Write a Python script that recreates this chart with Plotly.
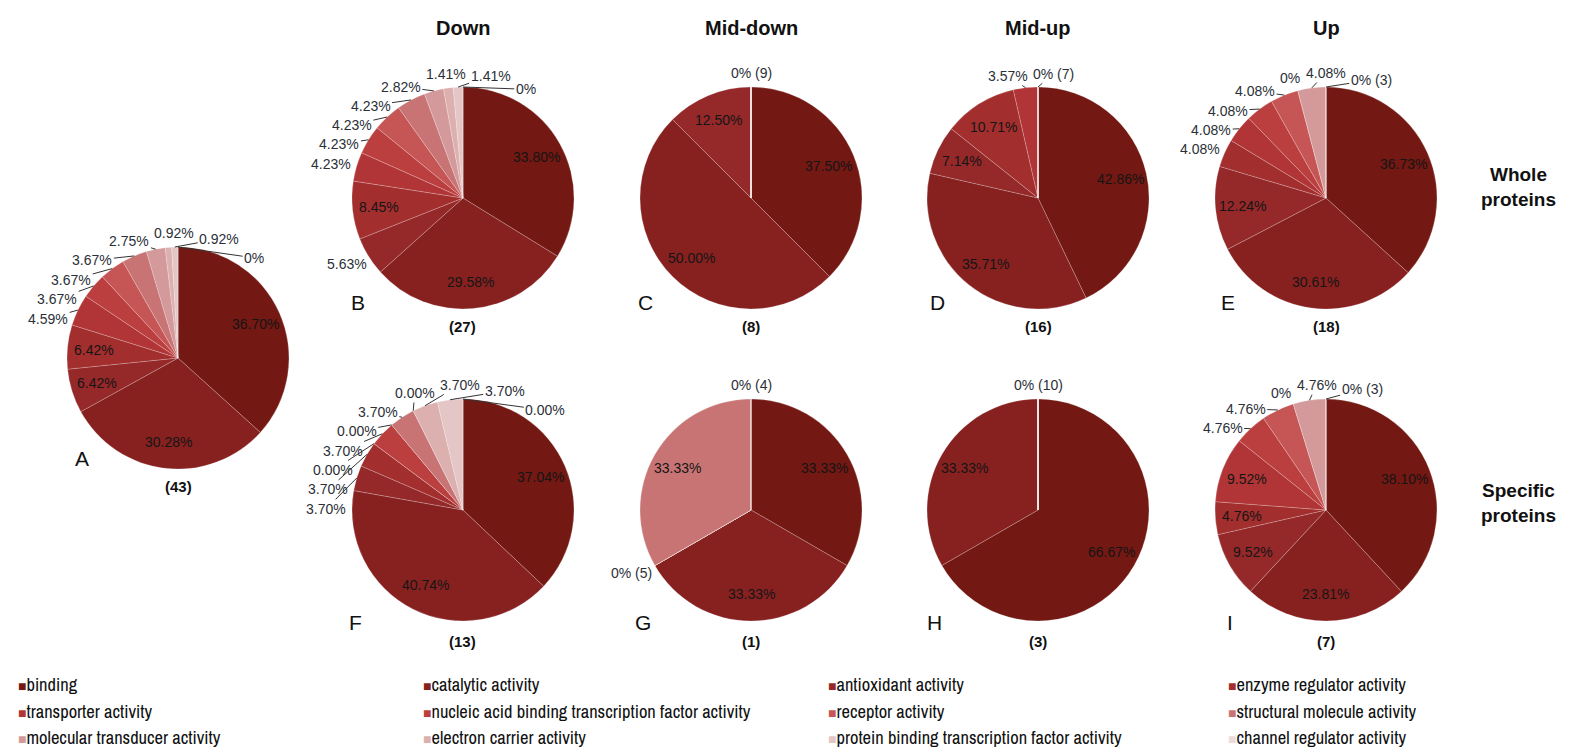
import math
import plotly.graph_objects as go

W, H = 1587, 752

categories = [
    "binding", "catalytic activity", "antioxidant activity", "enzyme regulator activity",
    "transporter activity", "nucleic acid binding transcription factor activity", "receptor activity",
    "structural molecule activity", "molecular transducer activity", "electron carrier activity",
    "protein binding transcription factor activity", "channel regulator activity",
]
slice_colors = [
    "#731812", "#872120", "#952829", "#A32E2E", "#B13536", "#BC3F3F",
    "#C65655", "#C97474", "#D4999A", "#DDB0B0", "#E4C6C6", "#EDDADA",
]

group_titles = ["Down", "Mid-down", "Mid-up", "Up"]
row_titles = ["Whole<br>proteins", "Specific<br>proteins"]
panel_letters = ["A", "B", "C", "D", "E", "F", "G", "H", "I"]
protein_counts = [43, 27, 8, 16, 18, 13, 1, 3, 7]

vals_A = [36.70, 30.28, 6.42, 6.42, 4.59, 3.67, 3.67, 3.67, 2.75, 0.92, 0.92, 0]
text_A = ["36.70%", "30.28%", "6.42%", "6.42%", "4.59%", "3.67%", "3.67%", "3.67%", "2.75%", "0.92%", "0.92%", "0%"]
vals_B = [33.80, 29.58, 5.63, 8.45, 4.23, 4.23, 4.23, 4.23, 2.82, 1.41, 1.41, 0]
text_B = ["33.80%", "29.58%", "5.63%", "8.45%", "4.23%", "4.23%", "4.23%", "4.23%", "2.82%", "1.41%", "1.41%", "0%"]
vals_C = [37.50, 50.00, 12.50, 0, 0, 0, 0, 0, 0, 0, 0, 0]
text_C = ["37.50%", "50.00%", "12.50%", "0% (9)", "", "", "", "", "", "", "", ""]
vals_D = [42.86, 35.71, 7.14, 10.71, 3.57, 0, 0, 0, 0, 0, 0, 0]
text_D = ["42.86%", "35.71%", "7.14%", "10.71%", "3.57%", "0% (7)", "", "", "", "", "", ""]
vals_E = [36.73, 30.61, 12.24, 4.08, 4.08, 4.08, 4.08, 0, 4.08, 0, 0, 0]
text_E = ["36.73%", "30.61%", "12.24%", "4.08%", "4.08%", "4.08%", "4.08%", "0%", "4.08%", "0% (3)", "", ""]
vals_F = [37.04, 40.74, 3.70, 3.70, 0, 3.70, 0, 3.70, 0, 3.70, 3.70, 0]
text_F = ["37.04%", "40.74%", "3.70%", "3.70%", "0.00%", "3.70%", "0.00%", "3.70%", "0.00%", "3.70%", "3.70%", "0.00%"]
vals_G = [33.33, 33.33, 0, 0, 0, 0, 0, 33.33, 0, 0, 0, 0]
text_G = ["33.33%", "33.33%", "0% (5)", "", "", "", "", "33.33%", "0% (4)", "", "", ""]
vals_H = [66.67, 33.33, 0, 0, 0, 0, 0, 0, 0, 0, 0, 0]
text_H = ["66.67%", "33.33%", "0% (10)", "", "", "", "", "", "", "", "", ""]
vals_I = [38.10, 23.81, 9.52, 4.76, 9.52, 4.76, 4.76, 0, 4.76, 0, 0, 0]
text_I = ["38.10%", "23.81%", "9.52%", "4.76%", "9.52%", "4.76%", "4.76%", "0%", "4.76%", "0% (3)", "", ""]

pie_values = [vals_A, vals_B, vals_C, vals_D, vals_E, vals_F, vals_G, vals_H, vals_I]
pie_texts = [text_A, text_B, text_C, text_D, text_E, text_F, text_G, text_H, text_I]

# ---------------- layout / style (pixels) ----------------
R = 111
centers = [(178, 358), (463, 198), (751, 198), (1038, 198), (1326, 198),
           (463, 510), (751, 510), (1038, 510), (1326, 510)]
inside_idx = [{0, 1, 2, 3}, {0, 1, 3}, {0, 1, 2}, {0, 1, 2, 3}, {0, 1, 2},
              {0, 1}, {0, 1, 7}, {0, 1}, {0, 1, 2, 3, 4}]
letter_dx = [-96, -105, -106, -101, -98, -108, -108, -104, -96]
letter_dy = [100, 104, 104, 104, 104, 112, 112, 112, 112]
count_dy = [128, 128, 128, 128, 128, 131, 131, 131, 131]
LABEL_FONT = "Liberation Sans, Arial, sans-serif"
NARROW_FONT = "Archivo Narrow, Liberation Sans Narrow, Arial Narrow, sans-serif"
FS = 14            # pie label font size
TH = FS * 1.15     # label box height
RING_GAP = 6       # gap between pie edge and outside labels
PAD_X, PAD_Y = 5, 3
STEP_CCW, STEP_CW = 0.2, 0.2
INSIDE_FRAC = 0.76 # radius fraction for inside labels
OUT_COLOR = "#2b3038"
IN_COLOR = "#151515"

CW = {".": 0.278, "%": 0.889, " ": 0.278, "(": 0.333, ")": 0.333}


def text_width(s, size=FS):
    return size * sum(CW.get(c, 0.556) for c in s)


def px(x, y):
    return x / W, 1 - y / H


fig = go.Figure()
ann = []

for k, (vals, texts) in enumerate(zip(pie_values, pie_texts)):
    cx, cy = centers[k]
    fig.add_trace(go.Pie(
        values=vals, labels=categories, text=texts, textinfo="none",
        sort=False, direction="clockwise", rotation=0,
        marker=dict(colors=slice_colors, line=dict(color="rgba(255,255,255,0.35)", width=0.6)),
        domain=dict(x=[(cx - R) / W, (cx + R) / W], y=[1 - (cy + R) / H, 1 - (cy - R) / H]),
        showlegend=False, name=panel_letters[k], hoverinfo="label+text",
    ))

    # slice mid-angles (degrees, clockwise from 12 o'clock), from the values
    total = float(sum(vals))
    mids, acc = [], 0.0
    for v in vals:
        a0 = acc / total * 360
        acc += v
        mids.append((a0 + acc / total * 360) / 2)

    outs = []
    for i, (t, m) in enumerate(zip(texts, mids)):
        if not t:
            continue
        if i in inside_idx[k]:
            r = INSIDE_FRAC * R
            x, y = px(cx + r * math.sin(math.radians(m)), cy - r * math.cos(math.radians(m)))
            ann.append(dict(x=x, y=y, text=t, showarrow=False, xanchor="center", yanchor="middle",
                            font=dict(family=LABEL_FONT, size=FS, color=IN_COLOR)))
        else:
            a = m if m <= 180 else m - 360
            outs.append([a, a, text_width(t), t])
    outs.sort(key=lambda o: o[0])

    def box_center(phi, w):
        p = math.radians(phi)
        return (cx + (R + RING_GAP + w / 2) * math.sin(p),
                cy - (R + RING_GAP + TH / 2) * math.cos(p))

    # spread outside labels around the ring until they no longer overlap
    for _ in range(6000):
        moved = False
        for j in range(len(outs) - 1):
            x1, y1 = box_center(outs[j][1], outs[j][2])
            x2, y2 = box_center(outs[j + 1][1], outs[j + 1][2])
            if (abs(x1 - x2) < (outs[j][2] + outs[j + 1][2]) / 2 + PAD_X
                    and abs(y1 - y2) < TH + PAD_Y):
                outs[j][1] -= STEP_CCW
                outs[j + 1][1] += STEP_CW
                moved = True
        if not moved:
            break

    for a0, phi, w, t in outs:
        bx, by = box_center(phi, w)
        font = dict(family=LABEL_FONT, size=FS, color=OUT_COLOR)
        if abs(phi - a0) > 4:
            hx = cx + R * math.sin(math.radians(a0))
            hy = cy - R * math.cos(math.radians(a0))
            x, y = px(hx, hy)
            ann.append(dict(x=x, y=y, ax=bx - hx, ay=by - hy, text=t, showarrow=True,
                            arrowhead=0, arrowwidth=1, arrowcolor="#333", standoff=0,
                            font=font))
        else:
            x, y = px(bx, by)
            ann.append(dict(x=x, y=y, text=t, showarrow=False, xanchor="center",
                            yanchor="middle", font=font))

for j, t in enumerate(group_titles):
    x, y = px(centers[j + 1][0], 28)
    ann.append(dict(x=x, y=y, text="<b>%s</b>" % t, font=dict(family=LABEL_FONT, size=20, color="#111"),
                    showarrow=False, xanchor="center", yanchor="middle"))
for j, t in enumerate(row_titles):
    x, y = px(1518, [187, 503][j])
    ann.append(dict(x=x, y=y, text="<b>%s</b>" % t, font=dict(family=LABEL_FONT, size=19, color="#111"),
                    showarrow=False, xanchor="center", yanchor="middle"))
for k in range(9):
    cx, cy = centers[k]
    x, y = px(cx + letter_dx[k], cy + letter_dy[k])
    ann.append(dict(x=x, y=y, text=panel_letters[k], font=dict(family=LABEL_FONT, size=21, color="#111"),
                    showarrow=False, xanchor="center", yanchor="middle"))
    x, y = px(cx, cy + count_dy[k])
    ann.append(dict(x=x, y=y, text="<b>(%d)</b>" % protein_counts[k],
                    font=dict(family=LABEL_FONT, size=15, color="#111"),
                    showarrow=False, xanchor="center", yanchor="middle"))

legend_cols = [16, 421, 826, 1226]
legend_rows = [684, 711, 737]
for i, (lab, col) in enumerate(zip(categories, slice_colors)):
    x, y = px(legend_cols[i % 4], legend_rows[i // 4])
    ann.append(dict(x=x, y=y,
                    text="<span style='color:%s;font-size:14px'>■</span>%s" % (col, lab),
                    font=dict(family=NARROW_FONT, size=18.5, color="#111"),
                    showarrow=False, xanchor="left", yanchor="middle"))

fig.update_layout(
    width=W, height=H, margin=dict(l=0, r=0, t=0, b=0),
    paper_bgcolor="white", plot_bgcolor="white", annotations=ann,
)
fig.write_html("out.html")
